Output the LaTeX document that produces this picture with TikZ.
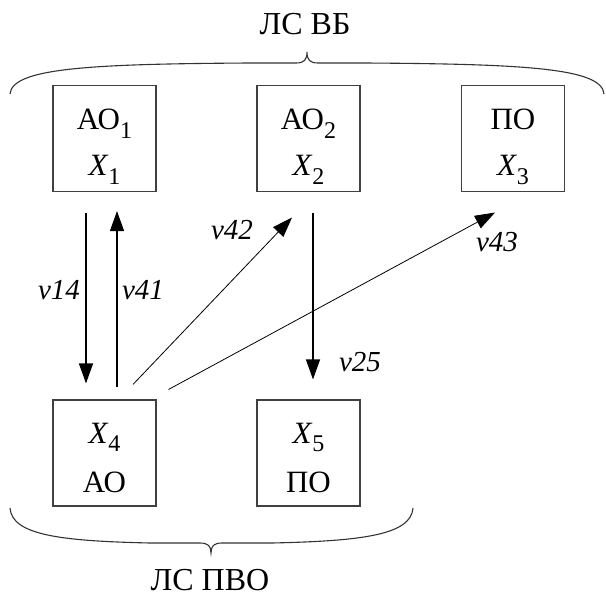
\documentclass[tikz,border=0pt]{standalone}
\usepackage{fontspec}
\setmainfont{Liberation Serif}
\usetikzlibrary{arrows.meta,calc}
% upright subscript used after X and AO
\newcommand\sbs[1]{\raisebox{-0.28em}{\fontsize{24}{24}\selectfont #1}}
\begin{document}
\begin{tikzpicture}[x=1pt,y=-1pt,
  box/.style={draw=black!75,line width=1.1pt,minimum width=103pt,minimum height=106pt,inner sep=0pt},
  boxtext/.style={font=\fontsize{31}{31}\selectfont,inner sep=0pt,anchor=base},
  lab/.style={font=\fontsize{29}{29}\selectfont\itshape,inner sep=0pt},
  grouptitle/.style={font=\fontsize{32}{32}\selectfont,inner sep=0pt},
  arr/.style={line width=1.1pt,-{Triangle[length=20pt,width=14pt]}},
  thinarr/.style={arr,line width=0.8pt},
  brace/.style={line width=1.1pt,black!80}]
\useasboundingbox (0,0) rectangle (606,597);

% top row
\node[box] (a1) at (104.5,138.5) {};
\node[box] (a2) at (308.5,138.5) {};
\node[box] (a3) at (513,138.5) {};
% bottom row
\node[box] (a4) at (104.5,453) {};
\node[box] (a5) at (308.5,453) {};

% two text lines in every box
\node[boxtext] (a1u) at ($(a1)+(0,-9)$) {АО\sbs{1}};
\node[boxtext] (a1d) at ($(a1)+(0,37)$) {\textit{X}\sbs{1}};
\node[boxtext] (a2u) at ($(a2)+(0,-9)$) {АО\sbs{2}};
\node[boxtext] (a2d) at ($(a2)+(0,37)$) {\textit{X}\sbs{2}};
\node[boxtext] (a3u) at ($(a3)+(0,-9)$) {ПО};
\node[boxtext] (a3d) at ($(a3)+(0,37)$) {\textit{X}\sbs{3}};
\node[boxtext] (a4u) at ($(a4)+(0,-10)$) {\textit{X}\sbs{4}};
\node[boxtext] (a4d) at ($(a4)+(0,39)$) {АО};
\node[boxtext] (a5u) at ($(a5)+(0,-10)$) {\textit{X}\sbs{5}};
\node[boxtext] (a5d) at ($(a5)+(0,39)$) {ПО};

% group captions
\node[grouptitle] (t1) at (305,24) {ЛС ВБ};
\node[grouptitle] (t2) at (210,580) {ЛС ПВО};

% braces
\draw[brace] (10,94) .. controls (12,68) and (90,64) .. (250,63) -- (296,63)
  .. controls (304,63) and (307,60) .. (307,52)
  .. controls (307,60) and (310,63) .. (318,63) -- (364,63)
  .. controls (524,64) and (602,68) .. (604,94);
\draw[brace] (10,508) .. controls (12,535) and (60,541) .. (150,543) -- (200,543)
  .. controls (208,543) and (211,546) .. (211,553)
  .. controls (211,546) and (214,543) .. (222,543) -- (272,543)
  .. controls (362,541) and (411,535) .. (413,508);

% arrow end points
\coordinate (s14) at ($(a1.south)+(-18.5,21)$);
\coordinate (e14) at ($(a4.north)+(-18.5,-16)$);
\coordinate (s41) at ($(a4.north)+(12.5,-12)$);
\coordinate (e41) at ($(a1.south)+(12.5,19)$);
\coordinate (s42) at ($(a4.north)+(28.5,-15)$);
\coordinate (e42) at ($(a2.south)+(-16.5,25.5)$);
\coordinate (s43) at ($(a4.north east)+(12,-10)$);
\coordinate (e43) at ($(a3.south)+(-18,20.5)$);
\coordinate (s25) at ($(a2.south)+(4.5,20.5)$);
\coordinate (e25) at ($(a5.north)+(4.5,-20)$);

\draw[arr] (s14) -- (e14);
\draw[arr] (s41) -- (e41);
\draw[thinarr] (s42) -- (e42);
\draw[thinarr] (s43) -- (e43);
\draw[arr] (s25) -- (e25);

% flow labels
\node[lab] (l14) at (59,290) {v14};
\node[lab] (l41) at (143,290) {v41};
\node[lab] (l42) at (232,230) {v42};
\node[lab] (l43) at (497,242) {v43};
\node[lab] (l25) at (360,362) {v25};
\end{tikzpicture}
\end{document}
